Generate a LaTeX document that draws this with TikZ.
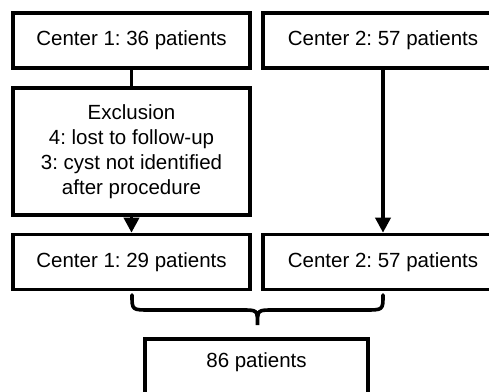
\documentclass[tikz,border=0pt]{standalone}
\usepackage{fontspec}
\setmainfont{Liberation Sans}
\usetikzlibrary{arrows.meta}
\frenchspacing
\begin{document}
\begin{tikzpicture}[x=1pt,y=-1pt,
  boxa/.style={draw,line width=3.6pt,minimum width=237pt,minimum height=55pt,inner sep=0pt,align=center,
    font=\fontsize{20.5}{25}\selectfont},
  conn/.style={line width=3.6pt},
  arr/.style={line width=3.6pt,-{Triangle[width=15pt,length=15pt]}}]
\useasboundingbox (0,0) rectangle (489,391);
\clip (0,0) rectangle (489,391);
\node[boxa] (c1) at (131.5,40.5) {Center 1: 36 patients};
\node[boxa,minimum width=240pt] (c2) at (383,40.5) {Center 2: 57 patients};
\node[boxa,minimum height=127pt] (ex) at (131.5,151.5) {Exclusion\\4: lost to follow-up\\3: cyst not identified\\after procedure};
\node[boxa] (d1) at (131.5,262) {Center 1: 29 patients};
\node[boxa,minimum width=240pt] (d2) at (383,262) {Center 2: 57 patients};
\node[boxa,minimum width=223pt,minimum height=58pt] (tot) at (256.5,368) {};
\node[font=\fontsize{20.5}{25}\selectfont] (tott) at (256.5,362) {86 patients};
\draw[conn] (c1.south) -- (ex.north);
\draw[arr] (ex.south) -- (d1.north);
\draw[arr] (c2.south) -- (d2.north);
\coordinate (bl) at (132,295);
\coordinate (br) at (383,295);
\coordinate (bt) at (257.5,325);
\draw[conn,line cap=round] (bl) .. controls (132,310) .. (150,310) -- (242,310) .. controls (257.5,310) .. (bt)
  .. controls (257.5,310) .. (273,310) -- (365,310) .. controls (383,310) .. (br);
\end{tikzpicture}
\end{document}
